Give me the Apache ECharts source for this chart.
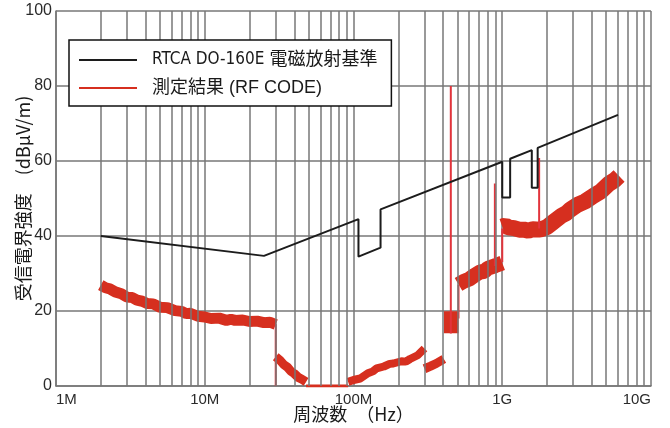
<!DOCTYPE html>
<html><head><meta charset="utf-8">
<script src="https://cdn.jsdelivr.net/npm/echarts@6/dist/echarts.min.js"></script>
<style>html,body{margin:0;padding:0;background:#fff}#c{width:670px;height:428px}</style>
</head><body><div id="c"></div>
<script>
// ---- tick labels (frequency in MHz) ----
const xTickValues = [1, 10, 100, 1000, 10000];
const xTickLabels = ['1M', '10M', '100M', '1G', '10G'];
const yTickValues = [0, 20, 40, 60, 80, 100];

// ---- RTCA DO-160E radiated emission limit (MHz, dBuV/m) ----
const limitName = 'RTCA DO-160E 電磁放射基準';
const limitFreq  = [2, 25, 108, 108, 152, 152, 1000, 1000, 1130, 1130, 1580, 1580, 1730, 1730, 6000];
const limitLevel = [40, 34.7, 44.5, 34.5, 36.9, 47.1, 59.8, 50.3, 50.3, 60.6, 62.9, 52.9, 52.9, 63.5, 72.3];

// ---- measured result (RF CODE), band segments ----
const measName = '測定結果 (RF CODE)';
const segAFreq  = [2, 2.15, 2.3, 2.5, 2.75, 3, 3.25, 3.5, 3.8, 4.1, 4.5, 5, 5.6, 6.3, 7, 7.5, 8, 9, 10, 11, 12.5, 14, 15, 16, 18, 20, 22.5, 25, 27.5, 30];
const segALevel = [26.9, 26.2, 25.9, 25.1, 24.6, 23.7, 23.6, 22.9, 22.6, 22.0, 21.9, 21.0, 20.9, 20.1, 19.9, 19.3, 19.4, 18.6, 18.4, 18.0, 18.1, 17.5, 17.8, 17.5, 17.6, 17.2, 17.3, 16.9, 17.0, 16.4];
const segBFreq  = [30, 32, 34, 36, 38, 40, 42.5, 45, 48];
const segBLevel = [7.8, 6.9, 5.7, 5.0, 3.9, 3.3, 2.3, 1.8, 1.1];
const segZFreq  = [48, 92];
const segZLevel = [0, 0];
const segC1Freq  = [92, 100, 111, 125, 135, 143, 160, 175, 185, 210, 225, 240, 270, 300];
const segC1Level = [1.1, 1.6, 2.0, 3.4, 3.9, 4.7, 5.2, 5.9, 6.0, 6.6, 6.5, 7.2, 8.2, 10.0];
const segC2Freq  = [300, 330, 360, 405];
const segC2Level = [4.6, 5.3, 6.0, 7.2];
const segC3Freq  = [405, 508];
const segC3Level = [17, 17];
const segC4Freq  = [508, 550, 600, 650, 710, 760, 800, 900, 1000];
const segC4Level = [27.1, 27.9, 28.5, 29.5, 30.4, 30.6, 31.4, 32.1, 32.8];
const segDFreq  = [1000, 1050, 1100, 1200, 1300, 1400, 1500, 1600, 1800, 2000, 2200, 2500, 2700, 2860, 3200, 3600, 4100, 4600, 5200, 5700, 6100];
const segDLevel = [42.5, 42.8, 42.3, 42.1, 41.7, 41.7, 41.4, 41.8, 41.7, 42.4, 43.7, 45.4, 46.1, 47.0, 48.3, 49.2, 50.7, 51.9, 53.9, 54.9, 56.0];

// ---- narrow spikes / vertical steps ----
const spikeFreq = [30, 451, 508, 892, 1000, 1770];
const spikeLow  = [0, 14, 18, 32, 33, 42];
const spikeHigh = [16.5, 80, 27, 54, 42, 60.8];

const pairs = (f, v) => f.map((x, i) => [x, v[i]]);
const RED = '#d62f1f';
const RED_THIN = '#e2343c';
const GRID = '#777';

const minorVals = [];
[1, 10, 100, 1000].forEach(d => { for (let k = 2; k <= 9; k++) minorVals.push(d * k); });

function band(data, width, color) {
  return {
    name: measName, type: 'line', data: data, symbol: 'none', showSymbol: false,
    lineStyle: { color: color || RED, width: width, cap: 'butt', join: 'bevel' },
    itemStyle: { color: RED }, z: 4, silent: true
  };
}

const series = [
  {
    name: 'minorGrid', type: 'line', data: [], z: 1, silent: true,
    markLine: {
      symbol: ['none', 'none'], silent: true, animation: false,
      label: { show: false },
      lineStyle: { color: GRID, width: 1.5, type: 'solid' },
      emphasis: { disabled: true },
      data: minorVals.map(v => ({ xAxis: v }))
    }
  },
  band(pairs(segAFreq, segALevel), 11),
  band(pairs(segBFreq, segBLevel), 9),
  band(pairs(segZFreq, segZLevel), 3),
  band(pairs(segC1Freq, segC1Level), 8),
  band(pairs(segC2Freq, segC2Level), 9),
  band(pairs(segC3Freq, segC3Level), 22),
  band(pairs(segC4Freq, segC4Level), 15),
  band(pairs(segDFreq, segDLevel), 16),
];
spikeFreq.forEach((f, i) => {
  series.push(band([[f, spikeLow[i]], [f, spikeHigh[i]]], 2, RED_THIN));
});
series.push({
  name: limitName, type: 'line', data: pairs(limitFreq, limitLevel),
  symbol: 'none', showSymbol: false, silent: true,
  lineStyle: { color: '#1c1c1c', width: 2 }, itemStyle: { color: '#1c1c1c' }, z: 6
});

const chart = echarts.init(document.getElementById('c'), null, { renderer: 'canvas' });
chart.setOption({
  animation: false,
  backgroundColor: '#fff',
  grid: { left: 56, right: 19, top: 11, bottom: 42, containLabel: false, outerBoundsMode: 'none' },
  legend: {
    orient: 'vertical', left: 69, top: 40,
    padding: [10, 14, 8, 10], itemGap: 8, itemWidth: 58, itemHeight: 2,
    icon: 'rect',
    backgroundColor: '#fff', borderColor: '#111', borderWidth: 1.5, borderRadius: 0,
    selectedMode: false,
    data: [{ name: limitName }, { name: measName }],
    formatter: n => n === limitName ? '{n|RTCA DO-160E} 電磁放射基準' : n,
    textStyle: {
      fontSize: 18, lineHeight: 20, color: '#1a1a1a', padding: [0, 0, 0, 10],
      fontFamily: "'Liberation Sans','Noto Sans CJK JP',sans-serif",
      rich: { n: { fontSize: 17, fontFamily: "'Liberation Sans Narrow','DejaVu Sans Condensed','Liberation Sans',sans-serif", color: '#1a1a1a' } }
    },
    z: 10
  },
  xAxis: {
    type: 'log', logBase: 10, min: 1, max: 10000,
    name: '周波数　（Hz）', nameLocation: 'middle', nameGap: 19, nameMoveOverlap: false,
    nameTextStyle: { fontSize: 18, color: '#1a1a1a', fontFamily: "'Noto Sans CJK JP',sans-serif", verticalAlign: 'top' },
    axisLine: { show: true, lineStyle: { color: GRID, width: 1.5 } },
    axisTick: { show: false },
    axisLabel: {
      margin: 6, fontSize: 15, color: '#2a2a2a', fontFamily: "'Liberation Sans',Arial,sans-serif",
      alignMinLabel: 'left', alignMaxLabel: 'right',
      formatter: v => { const i = xTickValues.findIndex(t => Math.abs(t - v) < 1e-6 * t); return i >= 0 ? xTickLabels[i] : ''; }
    },
    splitLine: { show: true, lineStyle: { color: GRID, width: 1.5 } },
    minorSplitLine: { show: false }
  },
  yAxis: {
    type: 'value', min: yTickValues[0], max: yTickValues[yTickValues.length - 1], interval: 20,
    name: '受信電界強度　(dBμV/m)', nameLocation: 'middle', nameGap: 24, nameMoveOverlap: false,
    nameTextStyle: { fontSize: 18, color: '#1a1a1a', fontFamily: "'Noto Sans CJK JP',sans-serif" },
    axisLine: { show: true, lineStyle: { color: GRID, width: 1.5 } },
    axisTick: { show: false },
    axisLabel: { margin: 4, fontSize: 16, color: '#2a2a2a', fontFamily: "'Liberation Sans',Arial,sans-serif" },
    splitLine: { show: true, lineStyle: { color: GRID, width: 1.5 } }
  },
  series: series
});
</script>
</body></html>
